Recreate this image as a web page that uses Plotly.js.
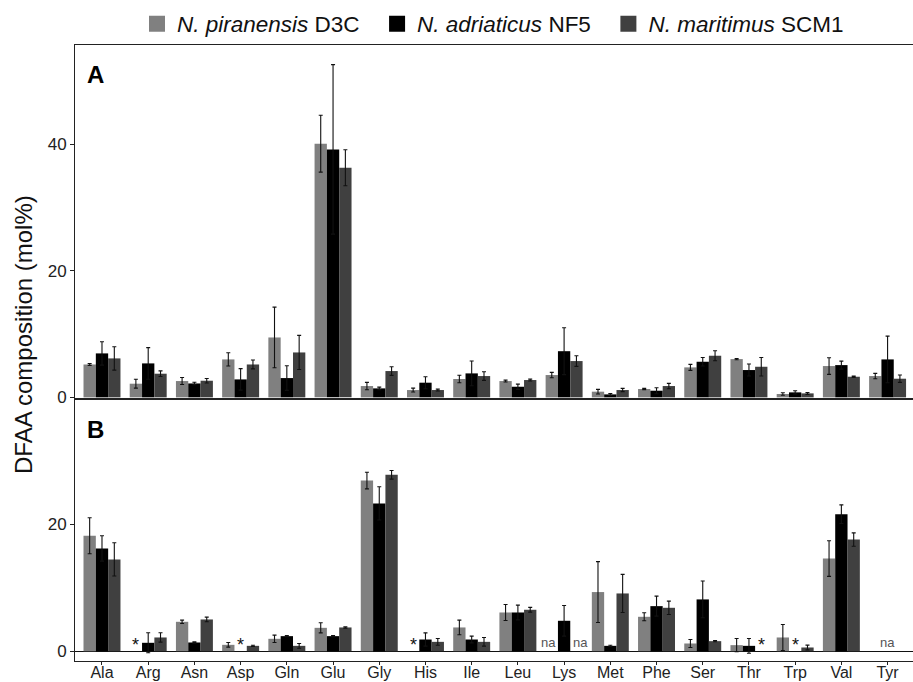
<!DOCTYPE html>
<html>
<head>
<meta charset="utf-8">
<script src="https://cdn.plot.ly/plotly-3.0.1.min.js"></script>
<style>html,body{margin:0;padding:0;background:#fff;}#chart{width:913px;height:682px;}</style>
</head>
<body>
<div id="chart"></div>
<script>
// ---- data ----
const categories = ['Ala','Arg','Asn','Asp','Gln','Glu','Gly','His','Ile','Leu','Lys','Met','Phe','Ser','Thr','Trp','Val','Tyr'];
const seriesNames = ['<i>N. piranensis</i> D3C', '<i>N. adriaticus</i> NF5', '<i>N. maritimus</i> SCM1'];

// Panel A
const A_D3C      = [5.2, 2.16, 2.58, 6.0, 9.47, 40.1, 1.79, 1.16, 2.9, 2.58, 3.53, 0.9, 1.32, 4.74, 6.05, 0.53, 4.95, 3.37];
const A_D3C_err  = [0.15, 0.7, 0.55, 1.05, 4.8, 4.5, 0.58, 0.3, 0.6, 0.15, 0.42, 0.37, 0.1, 0.47, 0.1, 0.2, 1.32, 0.42];
const A_NF5      = [6.95, 5.37, 2.2, 2.84, 3.05, 39.2, 1.42, 2.32, 3.79, 1.68, 7.3, 0.47, 1.05, 5.63, 4.32, 0.79, 5.1, 6.0];
const A_NF5_err  = [1.85, 2.5, 0.2, 1.7, 1.95, 13.4, 0.2, 0.95, 1.95, 0.42, 3.7, 0.15, 0.47, 0.68, 0.95, 0.26, 0.63, 3.68];
const A_SCM1     = [6.16, 3.74, 2.63, 5.2, 7.1, 36.3, 4.16, 1.16, 3.37, 2.74, 5.74, 1.16, 1.79, 6.58, 4.84, 0.63, 3.26, 2.95];
const A_SCM1_err = [1.85, 0.45, 0.35, 0.7, 2.7, 2.85, 0.68, 0.15, 0.68, 0.15, 0.84, 0.26, 0.42, 0.79, 1.47, 0.15, 0.1, 0.58];

// Panel B
const B_D3C      = [18.2, null, 4.63, 1.0, 1.95, 3.68, 26.9, null, 3.74, 6.1, null, 9.32, 5.42, 1.21, 0.95, 2.16, 14.6, null];
const B_D3C_err  = [2.84, null, 0.26, 0.37, 0.58, 0.79, 1.32, null, 1.16, 1.26, null, 4.79, 0.63, 0.63, 1.05, 2.05, 2.8, null];
const B_NF5      = [16.2, 1.32, 1.37, null, 2.37, 2.37, 23.3, 1.84, 1.84, 6.1, 4.79, 0.84, 7.1, 8.16, 0.84, null, 21.6, null];
const B_NF5_err  = [2.0, 1.58, 0.1, null, 0.1, 0.1, 2.63, 1.05, 0.53, 1.16, 2.42, 0.1, 1.58, 2.9, 1.16, null, 1.47, null];
const B_SCM1     = [14.47, 2.16, 5.0, 0.84, 0.84, 3.74, 27.8, 1.47, 1.47, 6.53, null, 9.1, 6.84, 1.58, null, 0.58, 17.6, null];
const B_SCM1_err = [2.63, 0.74, 0.37, 0.1, 0.37, 0.1, 0.68, 0.53, 0.68, 0.37, null, 3.0, 1.05, 0.1, null, 0.37, 1.05, null];

// markers in panel B: '*' and 'na'
const starCats   = ['Arg','Asp','His','Thr','Trp'];
const starSeries = [0, 1, 0, 2, 1];
const naCats     = ['Lys','Lys','Tyr'];
const naSeries   = [0, 2, 1];

const yTicksA = [0, 20, 40];
const yTicksB = [0, 20];

// ---- styling ----
const colors = ['#808080', '#000000', '#404040'];
const FONT = 'Liberation Sans, Arial, Helvetica, sans-serif';
const xRange = [-0.584, 17.55];
const marginL = 75, marginR = 0, W = 913, H = 682, marginT = 45, marginB = 21;
const plotH = H - marginT - marginB;
const unitPx = (W - marginL - marginR) / (xRange[1] - xRange[0]);
const barPx = unitPx * 0.8 / 3;
const NB = '\u00A0\u00A0';

const Adata = [A_D3C, A_NF5, A_SCM1];
const Aerr = [A_D3C_err, A_NF5_err, A_SCM1_err];
const Bdata = [B_D3C, B_NF5, B_SCM1];
const Berr = [B_D3C_err, B_NF5_err, B_SCM1_err];

const traces = [];
for (let i = 0; i < 3; i++) {
  traces.push({
    type: 'bar', x: categories, y: Adata[i], name: seriesNames[i],
    xaxis: 'x2', yaxis: 'y', legendgroup: 'g' + i, showlegend: false,
    marker: {color: colors[i], line: {width: 0}},
    error_y: {type: 'data', array: Aerr[i], visible: true, color: '#111', thickness: 1.1, width: 2}
  });
}
for (let i = 0; i < 3; i++) {
  traces.push({
    type: 'bar', x: categories, y: Bdata[i], name: seriesNames[i],
    xaxis: 'x', yaxis: 'y2', legendgroup: 'g' + i, showlegend: false,
    marker: {color: colors[i], line: {width: 0}},
    error_y: {type: 'data', array: Berr[i], visible: true, color: '#111', thickness: 1.1, width: 2}
  });
}
// legend entries (square keys)
for (let i = 0; i < 3; i++) {
  traces.push({
    type: 'scatter', mode: 'markers', x: [null], y: [null], name: seriesNames[i] + (i < 2 ? NB : ''),
    xaxis: 'x2', yaxis: 'y', legendgroup: 'g' + i, showlegend: true,
    marker: {symbol: 'square', size: 18, color: colors[i], line: {width: 0}}
  });
}

const annotations = [
  {text: 'DFAA composition (mol%)', textangle: -90, xref: 'paper', yref: 'paper',
   x: (23 - marginL) / (W - marginL - marginR), y: (H - marginB - 335) / plotH, xanchor: 'center', yanchor: 'middle',
   showarrow: false, font: {family: FONT, size: 24, color: '#111'}},
  {text: '<b>A</b>', xref: 'x2 domain', yref: 'y domain', x: 0.012, y: 0.96,
   xanchor: 'left', yanchor: 'top', showarrow: false, font: {family: FONT, size: 24, color: '#000'}},
  {text: '<b>B</b>', xref: 'x domain', yref: 'y2 domain', x: 0.012, y: 0.945,
   xanchor: 'left', yanchor: 'top', showarrow: false, font: {family: FONT, size: 24, color: '#000'}}
];
starCats.forEach((c, k) => {
  annotations.push({text: '*', xref: 'x', yref: 'y2', x: categories.indexOf(c), y: 0.9,
    xshift: (starSeries[k] - 1) * barPx, xanchor: 'center', yanchor: 'middle', showarrow: false,
    font: {family: FONT, size: 18, color: '#111'}});
});
naCats.forEach((c, k) => {
  annotations.push({text: 'na', xref: 'x', yref: 'y2', x: categories.indexOf(c), y: 1.4,
    xshift: (naSeries[k] - 1) * barPx * 1.3, xanchor: 'center', yanchor: 'middle', showarrow: false,
    font: {family: FONT, size: 13, color: '#555'}});
});

const axLine = '#222';
const yBotA = 398, yTopB = 400, yBotB = H - marginB;
const layout = {
  width: W, height: H,
  margin: {l: marginL, r: marginR, t: marginT, b: marginB, pad: 0},
  paper_bgcolor: '#fff', plot_bgcolor: '#fff',
  font: {family: FONT, color: '#222'},
  barmode: 'group', bargap: 0.2, bargroupgap: 0,
  showlegend: true,
  legend: {orientation: 'h', x: (137 - marginL) / (W - marginL - marginR), xanchor: 'left',
           y: 1 + 21 / plotH, yanchor: 'middle', itemclick: false, traceorder: 'normal',
           bgcolor: 'rgba(0,0,0,0)', borderwidth: 0,
           font: {family: FONT, size: 22.5, color: '#111'}},
  xaxis: {anchor: 'y2', domain: [0, 1], type: 'category', range: xRange,
          showline: true, linecolor: axLine, linewidth: 1, mirror: true,
          ticks: 'outside', ticklen: 3, tickcolor: axLine, ticklabelstandoff: -6,
          tickfont: {family: FONT, size: 16, color: '#222'},
          showgrid: false, zeroline: false},
  xaxis2: {anchor: 'y', domain: [0, 1], type: 'category', matches: 'x', range: xRange,
           showline: true, linecolor: axLine, linewidth: 1, mirror: true,
           ticks: '', showticklabels: false, showgrid: false, zeroline: false},
  yaxis: {domain: [(yBotB - yBotA) / plotH, 1], range: [-0.1, 55.7], tickvals: yTicksA,
          showline: true, linecolor: axLine, linewidth: 1, mirror: true,
          ticks: 'outside', ticklen: 4, tickcolor: axLine, tickfont: {family: FONT, size: 17, color: '#222'},
          showgrid: false, zeroline: false},
  yaxis2: {domain: [0, (yBotB - yTopB) / plotH], range: [-1.55, 39.6], tickvals: yTicksB,
           showline: true, linecolor: axLine, linewidth: 1, mirror: true,
           ticks: 'outside', ticklen: 4, tickcolor: axLine, tickfont: {family: FONT, size: 17, color: '#222'},
           showgrid: false, zeroline: true, zerolinecolor: '#111', zerolinewidth: 1},
  annotations: annotations
};

Plotly.newPlot('chart', traces, layout, {displayModeBar: false, staticPlot: true});
</script>
</body>
</html>
